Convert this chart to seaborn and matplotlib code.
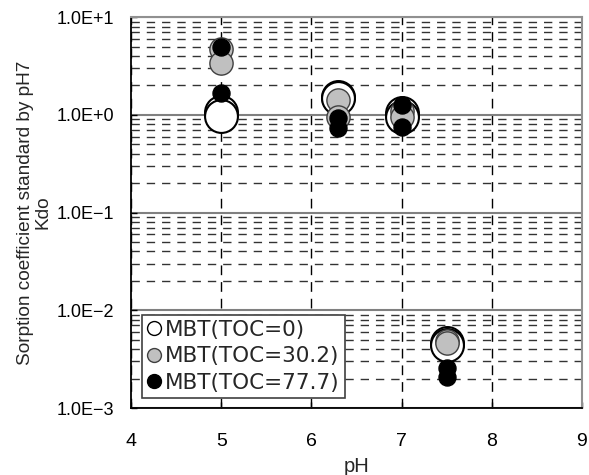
import numpy as np
import pandas as pd
import matplotlib
matplotlib.use("Agg")
import matplotlib.pyplot as plt
import seaborn as sns
from matplotlib.ticker import FixedLocator, FixedFormatter, LogLocator, NullFormatter
from matplotlib.lines import Line2D

sns.set_style("white")
plt.rcParams['font.family'] = ['Liberation Sans', 'DejaVu Sans']

ph = [5, 5, 6.3, 6.3, 7, 7, 7.5, 7.5]
toc0 = [1.08, 0.98, 1.51, 1.48, 1.05, 0.95, 0.0046, 0.0044]
toc302 = [4.67, 3.36, 1.41, 0.94, 1.10, 0.96, 0.0048, 0.0046]
toc777 = [4.96, 1.68, 0.93, 0.73, 1.26, 0.75, 0.00255, 0.0021]
series_names = ["MBT(TOC=0)", "MBT(TOC=30.2)", "MBT(TOC=77.7)"]
y_ticks = [1e-3, 1e-2, 1e-1, 1e0, 1e1]
y_ticklabels = ["1.0E\u22123", "1.0E\u22122", "1.0E\u22121", "1.0E+0", "1.0E+1"]
x_ticks = [4, 5, 6, 7, 8, 9]

fig = plt.figure(figsize=(5.89, 4.75), dpi=100)
ax = fig.add_axes([0.2224, 0.141, 0.7656, 0.823])

styles = [
    dict(color="white", s=560, edgecolor="black", linewidth=1.5),
    dict(color="#c0c0c0", s=280, edgecolor="#404040", linewidth=1.0),
    dict(color="black", s=150, edgecolor="black", linewidth=1.0),
]
for vals, name, st in zip([toc0, toc302, toc777], series_names, styles):
    df = pd.DataFrame({"pH": ph, "Kdo": vals})
    sns.scatterplot(data=df, x="pH", y="Kdo", ax=ax, zorder=5, legend=False, **st)

ax.set_yscale("log")
ax.set_xlim(4, 9)
ax.set_ylim(1e-3, 1e1)
ax.xaxis.set_major_locator(FixedLocator(x_ticks))
ax.yaxis.set_major_locator(FixedLocator(y_ticks))
ax.yaxis.set_major_formatter(FixedFormatter(y_ticklabels))
ax.yaxis.set_minor_locator(LogLocator(base=10, subs=np.arange(2, 10)))
ax.yaxis.set_minor_formatter(NullFormatter())

ax.grid(False)
ax.yaxis.grid(True, which="major", color="#808080", linestyle="-", linewidth=1.5, zorder=1)
ax.yaxis.grid(True, which="minor", color="#333333", linestyle=(0, (6, 5)), linewidth=1.0, zorder=1)
ax.xaxis.grid(True, which="major", color="black", linestyle=(0, (7, 5)), linewidth=1.0, zorder=1)
ax.set_axisbelow(True)

ax.tick_params(axis="both", which="major", direction="in", length=4, width=1,
               colors="black", left=True, bottom=True)
ax.tick_params(axis="y", which="major", labelsize=13, pad=12)
ax.tick_params(axis="x", which="major", labelsize=14, pad=18)
ax.tick_params(axis="y", which="minor", direction="in", length=0)

for side in ["left", "bottom"]:
    ax.spines[side].set_color("black")
    ax.spines[side].set_linewidth(1.3)
for side in ["top", "right"]:
    ax.spines[side].set_color("#909090")
    ax.spines[side].set_linewidth(1.5)

ax.set_xlabel("pH", fontsize=14.5, labelpad=5)
ax.set_ylabel("Sorption coefficient standard by pH7\nKdo", fontsize=13.7, labelpad=4, linespacing=1.0)

handles = [
    Line2D([], [], marker="o", linestyle="none", markerfacecolor="white", markeredgecolor="black", markersize=10, markeredgewidth=1.0),
    Line2D([], [], marker="o", linestyle="none", markerfacecolor="#c0c0c0", markeredgecolor="#404040", markersize=10, markeredgewidth=1.0),
    Line2D([], [], marker="o", linestyle="none", markerfacecolor="black", markeredgecolor="black", markersize=10, markeredgewidth=1.0),
]
leg = ax.legend(handles, series_names, loc="lower left", bbox_to_anchor=(0.025, 0.025),
                prop={"family": ["DejaVu Sans"], "size": 15.5},
                frameon=True, fancybox=False, framealpha=1, edgecolor="#404040",
                handlelength=0.55, handletextpad=0.25, borderpad=0.25, labelspacing=0.3,
                borderaxespad=0)
leg.get_frame().set_linewidth(1.2)
leg.set_zorder(10)

fig.savefig("out.png", dpi=100)
